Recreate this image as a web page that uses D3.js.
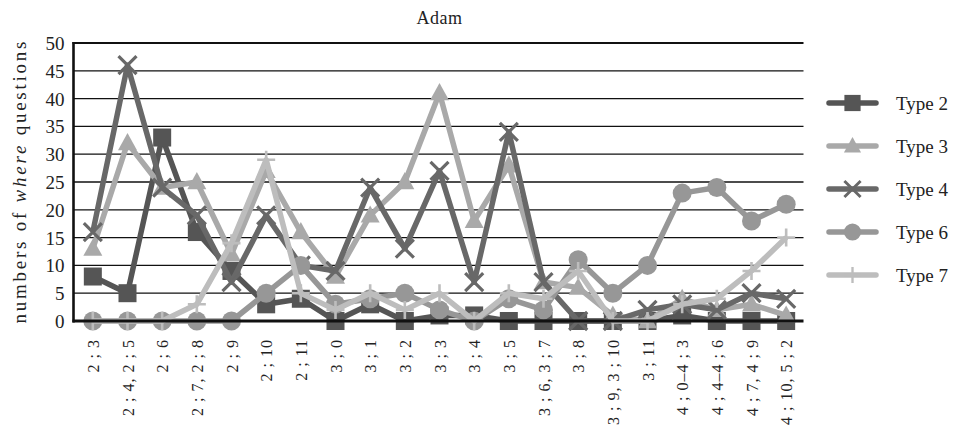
<!DOCTYPE html>
<html>
<head>
<meta charset="utf-8">
<script src="https://cdn.jsdelivr.net/npm/d3@7"></script>
<style>
  html, body { margin: 0; padding: 0; background: #fff; }
  svg { display: block; }
  svg text { font-family: "Liberation Serif", "Times New Roman", "DejaVu Serif", serif !important; fill: #222; }
</style>
</head>
<body>
<svg id="chart" width="966" height="430" font-family="Liberation Serif, serif"></svg>
<script>
// Age bins (years ; months)
const categories = [
  "2 ; 3", "2 ; 4, 2 ; 5", "2 ; 6", "2 ; 7, 2 ; 8", "2 ; 9", "2 ; 10", "2 ; 11",
  "3 ; 0", "3 ; 1", "3 ; 2", "3 ; 3", "3 ; 4", "3 ; 5", "3 ; 6, 3 ; 7", "3 ; 8",
  "3 ; 9, 3 ; 10", "3 ; 11", "4 ; 0\u20134 ; 3", "4 ; 4\u20134 ; 6", "4 ; 7, 4 ; 9", "4 ; 10, 5 ; 2"
];

// Counts of "where" questions per type
const type2 = [8, 5, 33, 16, 9, 3, 4, 0, 3, 0, 1, 1, 0, 0, 0, 0, 0, 1, 0, 0, 0];
const type3 = [13, 32, 24, 25, 12, 27, 16, 8, 19, 25, 41, 18, 28, 7, 6, 1, 0, 4, 2, 3, 1];
const type4 = [16, 46, 24, 19, 7, 19, 10, 9, 24, 13, 27, 7, 34, 7, 0, 0, 2, 3, 2, 5, 4];
const type6 = [0, 0, 0, 0, 0, 5, 10, 3, 4, 5, 2, 0, 4, 2, 11, 5, 10, 23, 24, 18, 21];
const type7 = [0, 0, 0, 3, 14, 29, 5, 2, 5, 2, 5, 0, 5, 4, 9, 0, 0, 3, 4, 9, 15];

const yTicks = [0, 5, 10, 15, 20, 25, 30, 35, 40, 45, 50];

const seriesNames = ["Type 2", "Type 3", "Type 4", "Type 6", "Type 7"];
const seriesValues = [type2, type3, type4, type6, type7];
const seriesColors = ["#555555", "#a9a9a9", "#686868", "#979797", "#bdbdbd"];
const seriesMarkers = ["square", "triangle", "cross", "circle", "plus"];

const svg = d3.select("#chart");
const margin = { left: 75.5, right: 803.5, top: 43, bottom: 321 };

const x = d3.scalePoint().domain(categories).range([margin.left, margin.right]).padding(0.5);
const y = d3.scaleLinear().domain([0, 50]).range([margin.bottom, margin.top]);

// Title
svg.append("text")
  .attr("x", (margin.left + margin.right) / 2)
  .attr("y", 24)
  .attr("text-anchor", "middle")
  .style("font-size", "18px")
  .style("letter-spacing", "0.5px")
  .text("Adam");

// Horizontal gridlines
svg.append("g")
  .selectAll("line")
  .data(yTicks.filter(d => d > 0 && d < 50))
  .join("line")
  .attr("x1", margin.left - 2)
  .attr("x2", margin.right)
  .attr("y1", d => y(d))
  .attr("y2", d => y(d))
  .attr("stroke", "#111")
  .attr("stroke-width", 1.3);

// Frame lines: top and left
svg.append("line")
  .attr("x1", margin.left - 3).attr("x2", margin.right)
  .attr("y1", y(50)).attr("y2", y(50))
  .attr("stroke", "#111").attr("stroke-width", 2.2);
svg.append("line")
  .attr("x1", margin.left - 2).attr("x2", margin.left - 2)
  .attr("y1", y(50) - 1).attr("y2", y(0) + 1.5)
  .attr("stroke", "#111").attr("stroke-width", 2.6);

// Y axis labels
const yAxis = d3.axisLeft(y).tickValues(yTicks).tickSize(0).tickPadding(0);
const gy = svg.append("g").attr("transform", `translate(${margin.left - 11},0)`).call(yAxis);
gy.attr("font-family", null);
gy.select(".domain").remove();
gy.selectAll("text")
  .style("font-size", "19px")
  .attr("fill", "#222")
  .attr("dy", "0.34em");

// Y axis title
const yTitle = svg.append("text")
  .attr("transform", `translate(26,${(y(0) + y(50)) / 2 + 0.5}) rotate(-90)`)
  .attr("text-anchor", "middle")
  .style("font-size", "19px");
yTitle.append("tspan").text("numbers of ");
yTitle.append("tspan").style("font-style", "italic").text("where");
yTitle.append("tspan").text(" questions");
yTitle.attr("textLength", 282).attr("lengthAdjust", "spacing");

// X axis labels (rotated, reading upward)
const xAxis = d3.axisBottom(x).tickSize(0).tickPadding(0);
const gx = svg.append("g").attr("transform", `translate(0,${y(0)})`).call(xAxis);
gx.attr("font-family", null);
gx.select(".domain").remove();
gx.selectAll("text")
  .style("font-size", "16px")
  .style("letter-spacing", "1px")
  .attr("fill", "#222")
  .attr("text-anchor", "end")
  .attr("dy", "0.35em")
  .attr("transform", "translate(0,18) rotate(-90)")
  .attr("x", 0)
  .attr("y", 0);

// Marker drawing
function drawMarker(g, kind, color, cx, cy, scale) {
  const s = scale || 1;
  if (kind === "cross") {
    const r = 9 * s;
    g.append("path")
      .attr("d", `M${cx - r},${cy - r}L${cx + r},${cy + r}M${cx - r},${cy + r}L${cx + r},${cy - r}`)
      .attr("stroke", color).attr("stroke-width", 3.2 * s).attr("fill", "none");
  } else if (kind === "plus") {
    const r = 9 * s;
    g.append("path")
      .attr("d", `M${cx - r},${cy}L${cx + r},${cy}M${cx},${cy - r}L${cx},${cy + r}`)
      .attr("stroke", color).attr("stroke-width", 2.6 * s).attr("fill", "none");
  } else if (kind === "square") {
    const r = 9 * s;
    g.append("rect")
      .attr("x", cx - r).attr("y", cy - r).attr("width", 2 * r).attr("height", 2 * r)
      .attr("fill", color);
  } else if (kind === "triangle") {
    const r = 9.5 * s;
    g.append("path")
      .attr("d", `M${cx},${cy - r * 1.05}L${cx + r},${cy + r * 0.75}L${cx - r},${cy + r * 0.75}Z`)
      .attr("fill", color);
  } else if (kind === "circle") {
    g.append("circle").attr("cx", cx).attr("cy", cy).attr("r", 9.5 * s).attr("fill", color);
  }
}

const line = d3.line()
  .x((d, i) => x(categories[i]))
  .y(d => y(d));

// Series: line then markers, drawn in legend order
seriesValues.forEach((vals, k) => {
  const g = svg.append("g");
  g.append("path")
    .datum(vals)
    .attr("d", line)
    .attr("fill", "none")
    .attr("stroke", seriesColors[k])
    .attr("stroke-width", 5.5)
    .attr("stroke-linejoin", "round");
  vals.forEach((v, i) => drawMarker(g, seriesMarkers[k], seriesColors[k], x(categories[i]), y(v)));
});

// Bottom axis line on top of the lines
svg.append("line")
  .attr("x1", margin.left - 3).attr("x2", margin.right)
  .attr("y1", y(0)).attr("y2", y(0))
  .attr("stroke", "#111").attr("stroke-width", 3);

// Legend
const legend = svg.append("g");
const legendY = d3.scalePoint().domain(seriesNames).range([103, 275]);
seriesNames.forEach((name, k) => {
  const cy = legendY(name);
  legend.append("line")
    .attr("x1", 829).attr("x2", 876)
    .attr("y1", cy).attr("y2", cy)
    .attr("stroke", seriesColors[k]).attr("stroke-width", 5.5)
    .attr("stroke-linecap", "round");
  drawMarker(legend, seriesMarkers[k], seriesColors[k], 852.5, cy, 0.9);
  legend.append("text")
    .attr("x", 896)
    .attr("y", cy)
    .attr("dy", "0.35em")
    .style("font-size", "19px")
    .text(name);
});
</script>
</body>
</html>
